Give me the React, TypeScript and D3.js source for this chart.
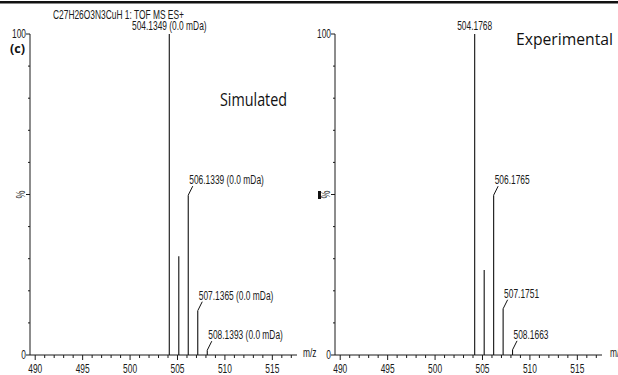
import React, { useRef, useEffect } from "react";
import * as d3 from "d3";

// simulated isotope pattern
const simMz = [504.1349, 505.1375, 506.1339, 507.1365, 508.1393];
const simInt = [100, 30.8, 49.8, 13.8, 1.5];
const simLabels = ["504.1349 (0.0 mDa)", "", "506.1339 (0.0 mDa)", "507.1365 (0.0 mDa)", "508.1393 (0.0 mDa)"];

// experimental spectrum
const expMz = [504.1768, 505.1792, 506.1765, 507.1751, 508.1663];
const expInt = [100, 26.5, 49.8, 14.4, 1.6];
const expLabels = ["504.1768", "", "506.1765", "507.1751", "508.1663"];

const xTickLabels = [490, 495, 500, 505, 510, 515];
const yTickLabels = ["0", "100"];

const W = 618;
const H = 375;

const App: React.FC = () => {
    const svgRef = useRef<SVGSVGElement | null>(null);

    useEffect(() => {
        const svg = d3.select(svgRef.current);
        svg.selectAll("*").remove();
        svg.append("rect").attr("width", W).attr("height", H).attr("fill", "#fff");

        // top border line
        svg.append("rect").attr("x", 0).attr("y", 1).attr("width", W).attr("height", 2.5).attr("fill", "#111");

        const ink = "#1a1a1a";
        // narrow Arial-like labels (MassLynx style)
        const small = (g: any, x: number, y: number, txt: string, anchor = "start") =>
            g.append("text")
                .attr("transform", `translate(${x},${y}) scale(0.7,1)`)
                .attr("text-anchor", anchor)
                .attr("font-family", "'Liberation Sans', Arial, sans-serif")
                .attr("font-size", 12)
                .attr("fill", ink)
                .text(txt);

        const yScale = d3.scaleLinear().domain([0, 100]).range([355, 34]);

        const drawPanel = (x0: number, x1: number, mz: number[], inten: number[], labels: string[], mzGap: number) => {
            const xScale = d3.scaleLinear().domain([489.45, 517.6]).range([x0, x1]);
            const g = svg.append("g");

            // y axis
            g.append("line").attr("x1", x0).attr("x2", x0).attr("y1", yScale(100)).attr("y2", yScale(0)).attr("stroke", ink);
            d3.range(0, 101, 10).forEach((v) => {
                const len = v === 0 || v === 100 || v === 50 ? 4 : 2;
                g.append("line").attr("x1", x0 - len).attr("x2", x0).attr("y1", yScale(v)).attr("y2", yScale(v)).attr("stroke", ink);
            });
            yTickLabels.forEach((t) => small(g, x0 - 4, yScale(+t) + 4, t, "end"));
            g.append("text")
                .attr("transform", `translate(${x0 - 5},${yScale(50)}) rotate(-90) scale(0.75,1)`)
                .attr("text-anchor", "middle")
                .attr("font-family", "'Liberation Sans', Arial, sans-serif")
                .attr("font-size", 12)
                .attr("fill", ink)
                .text("%");

            // x axis
            g.append("line").attr("x1", x0).attr("x2", x1).attr("y1", yScale(0)).attr("y2", yScale(0)).attr("stroke", ink);
            d3.range(490, 518).forEach((v) => {
                const len = v % 5 === 0 ? 5 : 3;
                g.append("line").attr("x1", xScale(v)).attr("x2", xScale(v)).attr("y1", yScale(0)).attr("y2", yScale(0) + len).attr("stroke", ink);
            });
            xTickLabels.forEach((t) => small(g, xScale(t), 373, String(t), "middle"));
            small(g, x1 + mzGap, 357, "m/z");

            // peaks
            mz.forEach((m, i) => {
                const px = xScale(m);
                const py = yScale(inten[i]);
                g.append("line").attr("x1", px).attr("x2", px).attr("y1", yScale(0)).attr("y2", py).attr("stroke", "#111").attr("stroke-width", 1.1);
                const lab = labels[i];
                if (!lab) return;
                if (i === 0) {
                    small(g, px, py - 4, lab, "middle");
                } else {
                    g.append("path")
                        .attr("d", `M${px},${py} L${px + 4.5},${py - 9}`)
                        .attr("stroke", "#111")
                        .attr("fill", "none");
                    small(g, px + 1, py - 11, lab);
                }
            });
        };

        drawPanel(30, 297, simMz, simInt, simLabels, 6);
        drawPanel(335, 602, expMz, expInt, expLabels, 8);

        // header text
        small(svg, 53, 19, "C27H26O3N3CuH  1: TOF MS ES+");

        svg.append("text").attr("x", 10).attr("y", 53).attr("textLength", 15).attr("lengthAdjust", "spacingAndGlyphs")
            .attr("font-family", "'Open Sans', sans-serif").attr("font-weight", "bold").attr("font-size", 13).attr("fill", "#111").text("(c)");
        svg.append("text").attr("x", 220).attr("y", 106).attr("textLength", 67).attr("lengthAdjust", "spacingAndGlyphs")
            .attr("font-family", "'Open Sans', sans-serif").attr("font-size", 18).attr("fill", "#111").text("Simulated");
        svg.append("text").attr("x", 516).attr("y", 45).attr("textLength", 97).attr("lengthAdjust", "spacingAndGlyphs")
            .attr("font-family", "'Open Sans', sans-serif").attr("font-size", 16).attr("fill", "#111").text("Experimental");

        // small mark near the right % label
        svg.append("rect").attr("x", 318).attr("y", 191).attr("width", 3).attr("height", 8).attr("fill", "#111");
    }, []);

    return (
        <svg
            ref={svgRef}
            width={W}
            height={H}
            style={{ position: "absolute", left: 0, top: 0, display: "block" }}
        />
    );
};

export default App;
